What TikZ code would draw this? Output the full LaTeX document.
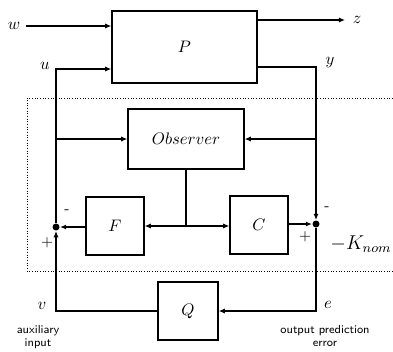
\documentclass[tikz,border=0pt]{standalone}
\usepackage{amsmath,amssymb}
\usepackage{tikz}
\usetikzlibrary{arrows.meta,positioning,calc}

\begin{document}
\begin{tikzpicture}[
  x=0.6pt, y=-0.6pt, line width=0.7pt,
  blk/.style={draw, line width=0.8pt, minimum width=34.8pt, minimum height=34.8pt,
              inner sep=0pt},
  sumdot/.style={circle, fill, inner sep=0pt, minimum size=4.2pt},
  arr/.style={-{Latex[length=1.3mm,width=1.1mm]}},
  sgn/.style={font=\small, inner sep=0pt},
  note/.style={font=\sffamily\scriptsize, align=center, inner sep=0pt},
]
\useasboundingbox (0,0) rectangle (393,351);
% blocks
\node[blk, minimum width=87pt, minimum height=43.2pt] (P) at (184.5,47) {$P$};
\node[blk, minimum width=69.6pt, minimum height=36pt] (obs) at (186,139) {$Observer$};
\node[blk] (F) at (115,226) {$F$};
\node[blk] (C) at (259,225) {$C$};
\node[blk, minimum width=36pt] (Q) at (188,311) {$Q$};
\node[sumdot] (Ld) at (56,227) {};
\node[sumdot] (Rd) at (316,224) {};
% signal labels
\node (w) at (14,26) {$w$};
\node (z) at (357,20) {$z$};
\node (u) at (45,66) {$u$};
\node (y) at (330,63) {$y$};
\node (v) at (42,306) {$v$};
\node (e) at (328,305) {$e$};
\node[note] (aux) at (38,337) {auxiliary\\input};
\node[note] (ope) at (325,336) {output prediction\\error};
\node (K) at (361,244) {\large $-K_{nom}$};
\node[sgn] at (67,212) {-};
\node[sgn] at (47,243) {+};
\node[sgn] at (327,209) {-};
\node[sgn] at (305,237) {+};
\coordinate (uc) at (56,69);
\coordinate (yc) at (316,67);
\coordinate (jn) at (obs.south |- F);
% dotted frame of the controller
\draw[densely dotted, line width=0.6pt] (393,98) -- (27,98) -- (27,271) -- (393,271);
% connections
\draw[arr] (w.east) -- (P.west |- w);
\draw[arr] (P.east |- z) -- (345,20);
\draw[arr] (Ld) -- (uc) -- (P.west |- uc);
\draw[arr] (P.east |- yc) -- (yc) -- (Rd);
\draw[arr] (Ld |- obs.west) -- (obs.west);
\draw[arr] (Rd |- obs.east) -- (obs.east);
\draw (obs.south) -- (jn);
\draw[arr] (jn) -- (F.east);
\draw[arr] (jn) -- (C.west |- jn);
\draw[arr] (F.west |- Ld) -- (Ld);
\draw[arr] (C.east |- Rd) -- (Rd);
\draw[arr] (Rd) -- (Rd |- Q) -- (Q.east);
\draw[arr] (Q.west) -- (Ld |- Q) -- (Ld);
\end{tikzpicture}
\end{document}
